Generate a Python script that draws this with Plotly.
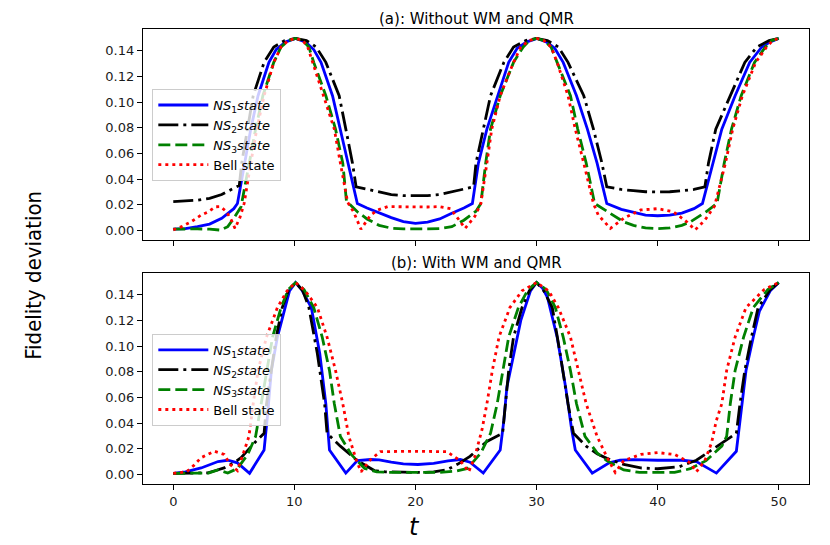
import plotly.graph_objects as go
from plotly.subplots import make_subplots

# ---------------- Panel (a): Without WM and QMR ----------------
t_a_ns1 = [0, 1, 2, 3, 4, 5, 5.3, 5.9, 6.4, 7.0, 7.9, 8.5, 9.3, 10.1, 10.9, 11.6, 12.2, 13.15, 13.8, 14.4, 15.2,
           16, 17, 18, 19, 20, 21, 22, 23, 24, 24.7, 25.2, 25.9, 26.8, 27.7, 28.4, 29.2, 30.05, 30.8, 31.5, 32.2,
           33.3, 34.2, 35.0, 35.8, 37, 38, 39, 40, 41, 42, 43, 43.7, 44.6, 45.3, 46.4, 47.6, 48.6, 49.3, 50]
y_a_ns1 = [0.001, 0.0015, 0.003, 0.005, 0.0095, 0.017, 0.021, 0.0525, 0.079, 0.105, 0.131, 0.141, 0.147, 0.1497,
           0.147, 0.141, 0.131, 0.105, 0.079, 0.0525, 0.021,
           0.0175, 0.0135, 0.010, 0.007, 0.0056, 0.0065, 0.009, 0.0135, 0.0175, 0.021, 0.0525, 0.079, 0.105, 0.131,
           0.142, 0.147, 0.1497, 0.147, 0.142, 0.131, 0.105, 0.079, 0.0525, 0.021, 0.0165, 0.014, 0.012, 0.0115,
           0.012, 0.0135, 0.017, 0.021, 0.0525, 0.079, 0.105, 0.131, 0.143, 0.147, 0.1497]

t_a_ns2 = [0, 1, 2, 3, 4, 5, 5.45, 5.65, 6.1, 6.6, 7.5, 8.3, 9.2, 10.1, 11.0, 11.8, 12.6, 13.7, 14.25, 14.8, 15.1,
           16, 17, 18, 19, 20, 21, 22, 23, 24, 24.8, 25.0, 25.6, 26.2, 27.3, 28.1, 29.1, 30.0, 30.9, 31.8, 32.6,
           33.9, 34.7, 35.4, 35.8, 37, 38, 39, 40, 41, 42, 43, 43.9, 44.2, 44.8, 46.0, 47.2, 48.2, 49.2, 50]
y_a_ns2 = [0.0225, 0.0228, 0.0236, 0.025, 0.028, 0.033, 0.035, 0.0525, 0.079, 0.105, 0.131, 0.143, 0.148, 0.1497,
           0.148, 0.143, 0.131, 0.105, 0.079, 0.0525, 0.034,
           0.032, 0.030, 0.028, 0.0272, 0.027, 0.0272, 0.028, 0.030, 0.032, 0.034, 0.0525, 0.079, 0.105, 0.131,
           0.143, 0.148, 0.1497, 0.148, 0.143, 0.131, 0.105, 0.079, 0.0525, 0.034, 0.032, 0.031, 0.0302, 0.030,
           0.0302, 0.031, 0.032, 0.034, 0.0525, 0.079, 0.105, 0.131, 0.143, 0.148, 0.1497]

t_a_ns3 = [0, 1, 2, 3, 3.9, 4.5, 5.0, 5.6, 6.3, 6.8, 7.4, 8.3, 8.9, 9.5, 10.1, 10.7, 11.2, 11.6, 12.6, 13.4, 14.0,
           14.3, 15.2, 16, 17, 18, 19, 20, 21, 22, 23, 24, 25, 25.4, 25.8, 26.2, 27.0, 28.1, 28.9, 29.4, 30.0, 30.6,
           31.2, 31.7, 32.8, 33.4, 34.1, 34.8, 35.9, 37.2, 38, 39, 40, 41, 42, 42.7, 44.0, 44.9, 45.5, 46.1, 46.9,
           48.0, 48.9, 49.4, 50]
y_a_ns3 = [0.001, 0.0012, 0.0013, 0.001, 0.0003, 0.003, 0.0095, 0.0186, 0.0525, 0.079, 0.105, 0.131, 0.143, 0.148,
           0.1497, 0.148, 0.143, 0.131, 0.105, 0.079, 0.0525, 0.023, 0.0146, 0.009, 0.004, 0.0018, 0.0012, 0.001,
           0.0012, 0.0015, 0.003, 0.008, 0.015, 0.021, 0.0525, 0.079, 0.105, 0.131, 0.143, 0.148, 0.1497, 0.148,
           0.143, 0.131, 0.105, 0.079, 0.0525, 0.021, 0.0146, 0.0067, 0.004, 0.002, 0.0015, 0.002, 0.004, 0.0067,
           0.0146, 0.021, 0.0525, 0.079, 0.105, 0.131, 0.143, 0.148, 0.1497]

t_a_bell = [0, 0.7, 1.5, 2.3, 2.9, 3.5, 3.9, 4.4, 4.8, 5.1, 5.5, 5.85, 6.4, 6.9, 7.5, 8.3, 8.9, 9.5, 10.1, 10.7,
            11.1, 11.5, 12.4, 13.3, 13.8, 14.4, 14.9, 15.5, 16.3, 16.9, 17.7, 19, 20, 21, 22, 22.9, 23.5, 24.1,
            24.9, 25.4, 25.9, 26.3, 27.0, 28.1, 28.7, 29.4, 30, 30.6, 31.2, 31.7, 32.6, 33.2, 33.9, 34.7, 35.1,
            36.1, 37.2, 38.6, 40, 41.3, 42.4, 43.1, 43.9, 44.7, 45.6, 46.2, 47.0, 48.1, 49.0, 49.5, 50]
y_a_bell = [0.0005, 0.003, 0.007, 0.012, 0.0146, 0.0185, 0.0186, 0.0146, 0.008, 0.0016, 0.010, 0.021, 0.0525,
            0.079, 0.105, 0.131, 0.143, 0.148, 0.1497, 0.148, 0.143, 0.131, 0.105, 0.079, 0.0525, 0.022, 0.0143,
            0.001, 0.012, 0.016, 0.0186, 0.0183, 0.018, 0.0183, 0.0186, 0.017, 0.0095, 0.0016, 0.011, 0.021,
            0.0525, 0.079, 0.105, 0.131, 0.143, 0.148, 0.1497, 0.148, 0.143, 0.131, 0.105, 0.079, 0.0525, 0.021,
            0.012, 0.0016, 0.0095, 0.016, 0.017, 0.0146, 0.0068, 0.0005, 0.008, 0.019, 0.0525, 0.079, 0.105,
            0.131, 0.143, 0.148, 0.1497]

# ---------------- Panel (b): With WM and QMR ----------------
t_b_ns1 = [0, 1, 2.3, 3.0, 3.7, 4.5, 5.3, 6.3, 7.5, 7.8, 8.1, 8.6, 9.2, 9.6, 10.1, 10.6, 11.4, 12.1, 12.6, 12.9,
           14.25, 15.2, 16.3, 17, 18, 19, 20.2, 21.5, 22.7, 23.7, 24.5, 25.6, 27.0, 27.3, 27.55, 28.1, 28.7, 29.5,
           30.0, 30.5, 30.9, 31.7, 32.4, 32.9, 33.2, 34.6, 35.25, 36.0, 36.9, 38, 40, 42, 43.2, 44.85, 46.5, 46.9,
           47.3, 47.9, 48.4, 49.3, 50]
y_b_ns1 = [0.0008, 0.002, 0.005, 0.0075, 0.010, 0.011, 0.009, 0.0008, 0.019, 0.0476, 0.081, 0.107, 0.13, 0.143,
           0.1495, 0.144, 0.13, 0.094, 0.055, 0.019, 0.001, 0.0107, 0.0116, 0.0113, 0.0095, 0.0082, 0.0077, 0.0085,
           0.0105, 0.0116, 0.0095, 0.001, 0.019, 0.042, 0.068, 0.094, 0.12, 0.143, 0.1495, 0.145, 0.138, 0.107,
           0.068, 0.035, 0.019, 0.001, 0.0046, 0.009, 0.011, 0.0115, 0.011, 0.011, 0.010, 0.001, 0.018, 0.050,
           0.081, 0.107, 0.127, 0.143, 0.1495]

t_b_ns2 = [0, 1, 2, 2.86, 3.5, 4.2, 5.0, 5.6, 6.7, 7.5, 7.7, 8.1, 8.5, 9.0, 9.5, 10.1, 10.7, 11.2, 11.9, 12.5,
           12.7, 13.8, 15.2, 16.6, 17.5, 19, 20.5, 21.5, 22.6, 23.5, 24.5, 25.9, 27.2, 27.3, 27.7, 28.1, 28.8,
           29.4, 30, 30.6, 31.3, 31.95, 32.6, 33.05, 34.1, 35.0, 35.8, 37.2, 38.6, 40, 41.8, 43.2, 44.3, 45.7,
           46.5, 46.8, 47.2, 47.75, 48.3, 49.3, 50]
y_b_ns2 = [0.0008, 0.0008, 0.001, 0.0012, 0.003, 0.005, 0.009, 0.013, 0.0245, 0.032, 0.055, 0.081, 0.107, 0.13,
           0.143, 0.1495, 0.143, 0.13, 0.094, 0.055, 0.032, 0.022, 0.0107, 0.003, 0.002, 0.0017, 0.0015, 0.002,
           0.0035, 0.008, 0.014, 0.0257, 0.032, 0.042, 0.081, 0.107, 0.13, 0.143, 0.1495, 0.143, 0.13, 0.094,
           0.055, 0.032, 0.022, 0.016, 0.0125, 0.0077, 0.005, 0.0044, 0.006, 0.011, 0.018, 0.027, 0.032, 0.055,
           0.081, 0.107, 0.13, 0.144, 0.1495]

t_b_ns3 = [0, 1.5, 2.9, 3.7, 4.5, 5.3, 6.15, 6.8, 7.25, 7.7, 8.2, 8.9, 9.5, 10.1, 10.8, 11.6, 12.3, 12.9, 13.3,
           13.8, 14.7, 15.8, 16.8, 18, 20, 22, 23.3, 24.3, 25.4, 26.2, 26.75, 27.2, 27.7, 28.5, 29.3, 30, 30.8,
           31.55, 32.2, 32.8, 33.3, 34.0, 35.0, 35.8, 37.2, 38.5, 40, 41.4, 42.7, 44.0, 45.3, 45.7, 46.0, 46.4,
           47.1, 47.9, 49.1, 50]
y_b_ns3 = [0.0008, 0.001, 0.001, 0.0035, 0.001, 0.0046, 0.0155, 0.0296, 0.055, 0.081, 0.107, 0.13, 0.144, 0.1495,
           0.144, 0.13, 0.107, 0.081, 0.055, 0.0296, 0.0155, 0.0046, 0.002, 0.0015, 0.0015, 0.0016, 0.0025,
           0.0046, 0.0167, 0.032, 0.055, 0.081, 0.107, 0.13, 0.144, 0.1495, 0.144, 0.13, 0.107, 0.081, 0.055,
           0.0296, 0.0167, 0.0107, 0.0035, 0.0015, 0.0012, 0.0015, 0.0044, 0.0107, 0.022, 0.0296, 0.055, 0.081,
           0.107, 0.13, 0.144, 0.1495]

t_b_bell = [0, 1.1, 1.7, 2.3, 3.4, 4.2, 4.7, 5.3, 5.8, 6.25, 6.6, 7.0, 7.7, 8.6, 9.4, 10.1, 10.9, 11.9, 12.7,
            13.4, 14.0, 14.5, 15.1, 15.5, 16.3, 17.1, 19.9, 22.6, 23.7, 24.4, 24.9, 25.5, 25.9, 26.35, 26.9, 27.8,
            28.8, 30, 31.0, 31.8, 32.8, 33.45, 34.1, 35.0, 35.8, 36.5, 37.2, 38.6, 40, 41.4, 42.7, 43.2, 43.9,
            44.45, 44.85, 45.3, 45.7, 46.4, 47.3, 48.8, 50]
y_b_bell = [0.0008, 0.002, 0.007, 0.013, 0.018, 0.0155, 0.0077, 0.003, 0.0167, 0.0296, 0.055, 0.081, 0.107, 0.13,
            0.143, 0.1495, 0.143, 0.13, 0.107, 0.081, 0.055, 0.0296, 0.0116, 0.002, 0.0116, 0.0177, 0.018, 0.0177,
            0.0107, 0.002, 0.0137, 0.035, 0.055, 0.081, 0.107, 0.13, 0.143, 0.1495, 0.143, 0.13, 0.107, 0.081,
            0.055, 0.0296, 0.0137, 0.0015, 0.0107, 0.0155, 0.017, 0.0155, 0.009, 0.002, 0.0107, 0.0245, 0.042,
            0.055, 0.081, 0.107, 0.13, 0.144, 0.1495]

names = ["<i>NS</i><sub>1</sub><i>state</i>", "<i>NS</i><sub>2</sub><i>state</i>",
         "<i>NS</i><sub>3</sub><i>state</i>", "Bell state"]
titles = ["(a): Without WM and QMR", "(b): With WM and QMR"]
x_ticks = [0, 10, 20, 30, 40, 50]
y_ticks = [0.00, 0.02, 0.04, 0.06, 0.08, 0.10, 0.12, 0.14]

colors = ["#0000ff", "#000000", "#008000", "#ff0000"]
dashes = ["solid", "20px,5px,3px,5px", "12px,5px", "3px,4px"]
LW = 2.8

fig = make_subplots(rows=2, cols=1, shared_xaxes=True, vertical_spacing=0.072)

panel_a = [(t_a_ns1, y_a_ns1), (t_a_ns2, y_a_ns2), (t_a_ns3, y_a_ns3), (t_a_bell, y_a_bell)]
panel_b = [(t_b_ns1, y_b_ns1), (t_b_ns2, y_b_ns2), (t_b_ns3, y_b_ns3), (t_b_bell, y_b_bell)]

for i, (tx, yy) in enumerate(panel_a):
    fig.add_trace(go.Scatter(x=tx, y=yy, mode="lines", name=names[i], legend="legend",
                             line=dict(color=colors[i], width=LW, dash=dashes[i])), row=1, col=1)
for i, (tx, yy) in enumerate(panel_b):
    fig.add_trace(go.Scatter(x=tx, y=yy, mode="lines", name=names[i], legend="legend2",
                             line=dict(color=colors[i], width=LW, dash=dashes[i])), row=2, col=1)

tickfont = dict(family="DejaVu Sans", size=13, color="#1a1a1a")
axis_common = dict(showline=True, mirror=True, linecolor="black", linewidth=1.2, ticks="outside",
                   ticklen=5, tickcolor="black", showgrid=False, zeroline=False, tickfont=tickfont)

fig.update_xaxes(range=[-2.5, 52.5], tickvals=x_ticks, **axis_common)
fig.update_yaxes(range=[-0.0075, 0.157], tickvals=y_ticks, tickformat=".2f", **axis_common)
fig.update_xaxes(showticklabels=False, row=1, col=1)
fig.update_xaxes(showticklabels=True, row=2, col=1)

legend_style = dict(bgcolor="rgba(255,255,255,0.8)", bordercolor="#cccccc", borderwidth=1,
                    font=dict(family="DejaVu Sans", size=13, color="black"),
                    xanchor="left", yanchor="top", tracegroupgap=0, itemwidth=50)

# the page body adds an 8px offset, so margins are reduced by 8px on the left/top
fig.update_layout(
    width=830, height=545,
    margin=dict(l=135, r=29, t=21, b=69),
    paper_bgcolor="white", plot_bgcolor="white",
    showlegend=True,
    legend=dict(x=0.014, y=0.868, **legend_style),
    legend2=dict(x=0.014, y=0.33, **legend_style),
    annotations=[
        dict(text=titles[0], xref="paper", yref="paper", x=0.5, y=1.022, showarrow=False,
             xanchor="center", yanchor="middle", font=dict(family="DejaVu Sans", size=15, color="black")),
        dict(text=titles[1], xref="paper", yref="paper", x=0.5, y=0.486, showarrow=False,
             xanchor="center", yanchor="middle", font=dict(family="DejaVu Sans", size=15, color="black")),
        dict(text="Fidelity deviation", xref="paper", yref="paper", x=-0.165, y=0.458, textangle=-90,
             showarrow=False, xanchor="center", yanchor="middle",
             font=dict(family="DejaVu Sans Condensed, Liberation Sans Narrow, DejaVu Sans", size=22,
                       color="black")),
        dict(text="<i>t</i>", xref="paper", yref="paper", x=0.408, y=-0.094, showarrow=False,
             xanchor="center", yanchor="middle", font=dict(family="DejaVu Sans", size=24, color="black")),
    ],
)

fig.write_html("out.html")
